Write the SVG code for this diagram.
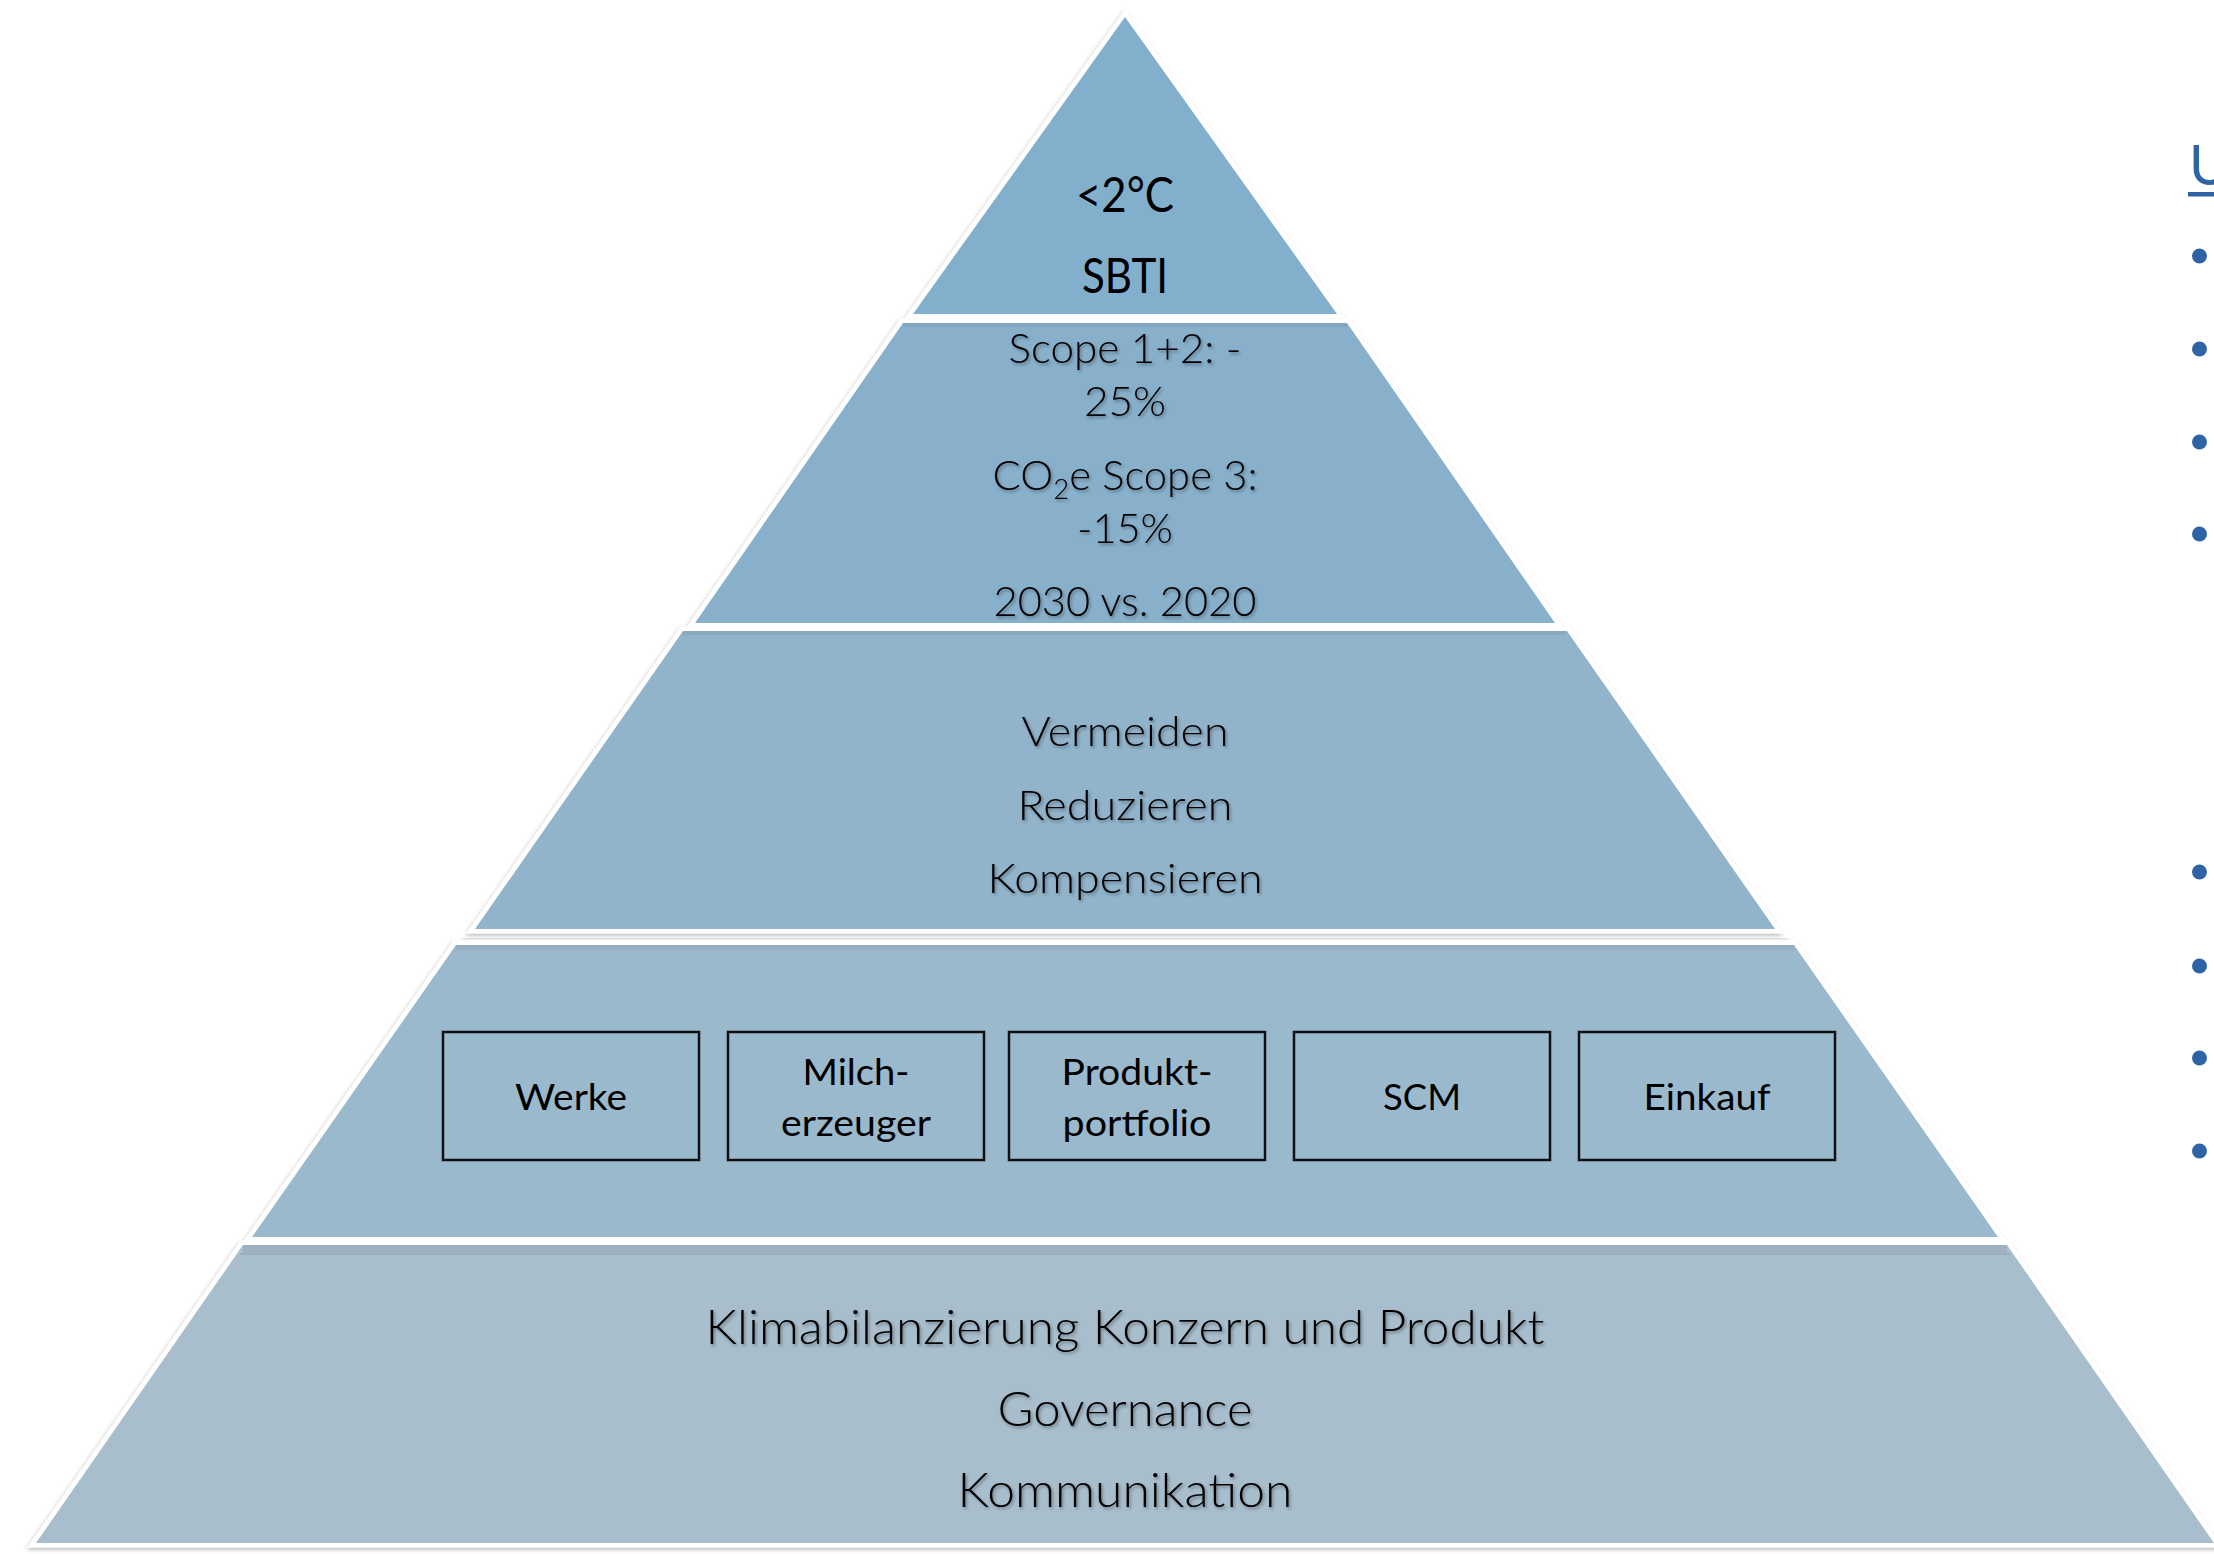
<svg xmlns="http://www.w3.org/2000/svg" width="2214" height="1554" viewBox="0 0 2214 1554">
  <defs>
    <filter id="outerShadow" x="-5%" y="-5%" width="110%" height="110%">
      <feDropShadow dx="-1" dy="2" stdDeviation="2" flood-color="#000" flood-opacity="0.28"/>
    </filter>
    <filter id="tshadow" x="-10%" y="-30%" width="120%" height="160%">
      <feDropShadow dx="1.5" dy="2" stdDeviation="1.6" flood-color="#000" flood-opacity="0.35"/>
    </filter>
    <style>
      .outline { fill: #fff; stroke: #fff; stroke-width: 9; stroke-linejoin: miter; }
      .txt { font-family: Lato, "Open Sans", "Liberation Sans", sans-serif; fill: #000; text-anchor: middle; }
      .light { font-weight: 300; }
      .sh { filter: url(#tshadow); }
      .box { fill: none; stroke: #111; stroke-width: 2.5; }
      .band { fill: #000; }
      .blue { fill: #2E64A6; }
    </style>
  </defs>

  <rect x="0" y="0" width="2214" height="1554" fill="#fff"/>

  <!-- white outlines with soft outer shadow -->
  <g id="outlines" filter="url(#outerShadow)">
    <polygon class="outline" points="1125,17 1337,314 913,314"/>
    <polygon class="outline" points="903,323 1347,323 1555,623 695,623"/>
    <polygon class="outline" points="683,631 1567,631 1775,929 475,929"/>
    <polygon class="outline" points="456,945 1794,945 1998,1237 252,1237"/>
    <polygon class="outline" points="243,1245 2007,1245 2214,1543 36,1543"/>
  </g>

  <g id="tier1">
    <polygon points="1125,17 1337,314 913,314" fill="#82AFCC"/>
    <text class="txt" x="1125" y="212" font-size="49" textLength="98" lengthAdjust="spacingAndGlyphs">&lt;2°C</text>
    <text class="txt" x="1125" y="293" font-size="49" textLength="86" lengthAdjust="spacingAndGlyphs">SBTI</text>
  </g>

  <g id="tier2">
    <polygon points="903,323 1347,323 1555,623 695,623" fill="#88B0CB"/>
    <rect class="band" x="903" y="323" width="444" height="4" opacity="0.05"/>
    <g class="sh">
      <text class="txt light" x="1125" y="363" font-size="41" textLength="233" lengthAdjust="spacingAndGlyphs">Scope 1+2: -</text>
      <text class="txt light" x="1125" y="416" font-size="41" textLength="82" lengthAdjust="spacingAndGlyphs">25%</text>
      <text class="txt light" x="1125" y="490" font-size="41" textLength="265" lengthAdjust="spacingAndGlyphs">CO<tspan font-size="27" dy="9">2</tspan><tspan dy="-9">e Scope 3:</tspan></text>
      <text class="txt light" x="1125" y="543" font-size="41" textLength="96" lengthAdjust="spacingAndGlyphs">-15%</text>
      <text class="txt light" x="1125" y="616" font-size="41" textLength="263" lengthAdjust="spacingAndGlyphs">2030 vs. 2020</text>
    </g>
  </g>

  <g id="tier3">
    <polygon points="683,631 1567,631 1775,929 475,929" fill="#91B4CB"/>
    <rect class="band" x="683" y="631" width="884" height="4" opacity="0.05"/>
    <g class="sh">
      <text class="txt light" x="1125" y="746" font-size="42" textLength="207" lengthAdjust="spacingAndGlyphs">Vermeiden</text>
      <text class="txt light" x="1125" y="820" font-size="42" textLength="215" lengthAdjust="spacingAndGlyphs">Reduzieren</text>
      <text class="txt light" x="1125" y="893" font-size="42" textLength="275" lengthAdjust="spacingAndGlyphs">Kompensieren</text>
    </g>
  </g>

  <g id="tier4">
    <rect class="band" x="462" y="938" width="1326" height="1.5" opacity="0.1"/>
    <polygon points="456,945 1794,945 1998,1237 252,1237" fill="#9BB9CC"/>
    <rect class="band" x="456" y="945" width="1338" height="5" opacity="0.05"/>
  </g>

  <g id="box-werke">
    <rect class="box" x="443" y="1032" width="256" height="128"/>
    <text class="txt" x="571" y="1110" font-size="37" textLength="112" lengthAdjust="spacingAndGlyphs">Werke</text>
  </g>
  <g id="box-milcherzeuger">
    <rect class="box" x="728" y="1032" width="256" height="128"/>
    <text class="txt" x="856" y="1085" font-size="37" textLength="107" lengthAdjust="spacingAndGlyphs">Milch-</text>
    <text class="txt" x="856" y="1136" font-size="37" textLength="150" lengthAdjust="spacingAndGlyphs">erzeuger</text>
  </g>
  <g id="box-produktportfolio">
    <rect class="box" x="1009" y="1032" width="256" height="128"/>
    <text class="txt" x="1137" y="1085" font-size="37" textLength="151" lengthAdjust="spacingAndGlyphs">Produkt-</text>
    <text class="txt" x="1137" y="1136" font-size="37" textLength="149" lengthAdjust="spacingAndGlyphs">portfolio</text>
  </g>
  <g id="box-scm">
    <rect class="box" x="1294" y="1032" width="256" height="128"/>
    <text class="txt" x="1422" y="1110" font-size="37" textLength="78" lengthAdjust="spacingAndGlyphs">SCM</text>
  </g>
  <g id="box-einkauf">
    <rect class="box" x="1579" y="1032" width="256" height="128"/>
    <text class="txt" x="1707" y="1110" font-size="37" textLength="127" lengthAdjust="spacingAndGlyphs">Einkauf</text>
  </g>

  <g id="tier5">
    <polygon points="243,1245 2007,1245 2214,1543 36,1543" fill="#A8BECD"/>
    <rect class="band" x="243" y="1245" width="1764" height="8" opacity="0.06"/>
    <rect class="band" x="240" y="1253" width="1770" height="2" opacity="0.08"/>
    <g class="sh">
      <text class="txt light" x="1125" y="1344" font-size="47" textLength="839" lengthAdjust="spacingAndGlyphs">Klimabilanzierung Konzern und Produkt</text>
      <text class="txt light" x="1125" y="1426" font-size="47" textLength="255" lengthAdjust="spacingAndGlyphs">Governance</text>
      <text class="txt light" x="1125" y="1507" font-size="47" textLength="335" lengthAdjust="spacingAndGlyphs">Kommunikation</text>
    </g>
  </g>

  <g id="side-panel">
    <text x="2189" y="185" font-family="Lato, 'Open Sans', 'Liberation Sans', sans-serif" font-size="56" class="blue">U</text>
    <rect x="2188" y="192" width="26" height="4.5" class="blue"/>
    <circle cx="2199.5" cy="256" r="7.5" class="blue"/>
    <circle cx="2199.5" cy="349" r="7.5" class="blue"/>
    <circle cx="2199.5" cy="442" r="7.5" class="blue"/>
    <circle cx="2199.5" cy="534" r="7.5" class="blue"/>
    <circle cx="2199.5" cy="872" r="7.5" class="blue"/>
    <circle cx="2199.5" cy="966" r="7.5" class="blue"/>
    <circle cx="2199.5" cy="1058" r="7.5" class="blue"/>
    <circle cx="2199.5" cy="1151" r="7.5" class="blue"/>
  </g>

  <g id="connectors"/>
</svg>
